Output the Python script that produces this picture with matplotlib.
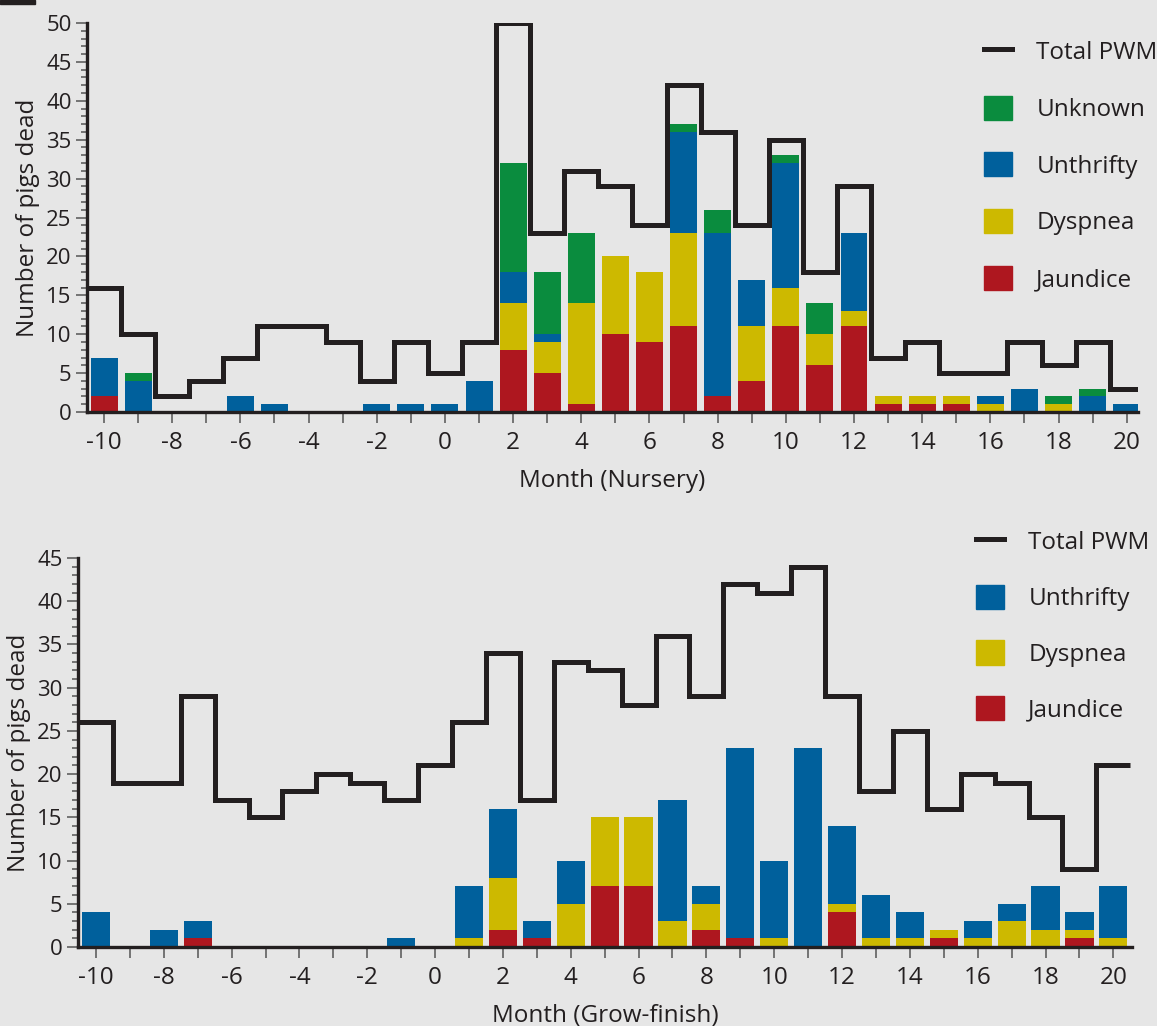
import matplotlib
matplotlib.use("Agg")
import matplotlib.pyplot as plt
from matplotlib.lines import Line2D
from matplotlib.patches import Patch, Rectangle
from matplotlib.ticker import MultipleLocator, FuncFormatter
import numpy as np

# months shown on both panels
months = np.arange(-10, 21)

# --- Nursery (top panel) ---
nur_jaundice = [2, 0, 0, 0, 0, 0, 0, 0, 0, 0, 0, 0, 8, 5, 1, 10, 9, 11, 2, 4, 11, 6, 11, 1, 1, 1, 0, 0, 0, 0, 0]
nur_dyspnea = [0, 0, 0, 0, 0, 0, 0, 0, 0, 0, 0, 0, 6, 4, 13, 10, 9, 12, 0, 7, 5, 4, 2, 1, 1, 1, 1, 0, 1, 0, 0]
nur_unthrifty = [5, 4, 0, 0, 2, 1, 0, 0, 1, 1, 1, 4, 4, 1, 0, 0, 0, 13, 21, 6, 16, 0, 10, 0, 0, 0, 1, 3, 0, 2, 1]
nur_unknown = [0, 1, 0, 0, 0, 0, 0, 0, 0, 0, 0, 0, 14, 8, 9, 0, 0, 1, 3, 0, 1, 4, 0, 0, 0, 0, 0, 0, 1, 1, 0]
nur_total = [16, 10, 2, 4, 7, 11, 11, 9, 4, 9, 5, 9, 50, 23, 31, 29, 24, 42, 36, 24, 35, 18, 29, 7, 9, 5, 5, 9, 6, 9, 3]

# --- Grow-finish (bottom panel) ---
gf_jaundice = [0, 0, 0, 1, 0, 0, 0, 0, 0, 0, 0, 0, 2, 1, 0, 7, 7, 0, 2, 1, 0, 0, 4, 0, 0, 1, 0, 0, 0, 1, 0]
gf_dyspnea = [0, 0, 0, 0, 0, 0, 0, 0, 0, 0, 0, 1, 6, 0, 5, 8, 8, 3, 3, 0, 1, 0, 1, 1, 1, 1, 1, 3, 2, 1, 1]
gf_unthrifty = [4, 0, 2, 2, 0, 0, 0, 0, 0, 1, 0, 6, 8, 2, 5, 0, 0, 14, 2, 22, 9, 23, 9, 5, 3, 0, 2, 2, 5, 2, 6]
gf_total = [26, 19, 19, 29, 17, 15, 18, 20, 19, 17, 21, 26, 34, 17, 33, 32, 28, 36, 29, 42, 41, 44, 29, 18, 25, 16, 20, 19, 15, 9, 21]

C_RED = "#ae171f"
C_YEL = "#cdb900"
C_BLUE = "#00609c"
C_GREEN = "#0a8c3e"
C_LINE = "#231f20"
BG = "#e6e6e6"
FS = 17.5

plt.rcParams["font.family"] = ["Open Sans", "DejaVu Sans"]
plt.rcParams["text.color"] = C_LINE
plt.rcParams["axes.labelcolor"] = C_LINE
plt.rcParams["xtick.color"] = "#555555"
plt.rcParams["ytick.color"] = "#555555"
plt.rcParams["xtick.labelcolor"] = C_LINE
plt.rcParams["ytick.labelcolor"] = C_LINE

W, H = 1157, 1026
fig = plt.figure(figsize=(W / 100, H / 100), dpi=100, facecolor=BG)

def px_axes(x0, x1, ytop, ybot):
    return fig.add_axes([x0 / W, 1 - ybot / H, (x1 - x0) / W, (ybot - ytop) / H])

def style_axes(ax, ymax, xlim, ylab_x):
    ax.set_facecolor(BG)
    ax.set_xlim(*xlim)
    ax.set_ylim(0, ymax)
    for s in ("top", "right"):
        ax.spines[s].set_visible(False)
    for s in ("left", "bottom"):
        ax.spines[s].set_linewidth(2.4)
        ax.spines[s].set_color(C_LINE)
    ax.xaxis.set_major_locator(MultipleLocator(2))
    ax.xaxis.set_minor_locator(MultipleLocator(1))
    ax.yaxis.set_major_locator(MultipleLocator(5))
    ax.yaxis.set_minor_locator(MultipleLocator(1))
    ax.xaxis.set_major_formatter(FuncFormatter(lambda v, p: f"{int(round(v))}"))
    ax.tick_params(axis="x", which="both", length=8, width=1.1, direction="out", pad=6, labelsize=FS)
    ax.tick_params(axis="y", which="major", length=8, width=1.1, direction="out", pad=3, labelsize=16)
    ax.tick_params(axis="y", which="minor", length=4, width=1.1, direction="out")
    ax.set_ylabel("Number of pigs dead", fontsize=FS)
    ax.yaxis.set_label_coords(ylab_x, 0.5)

def make_legend(ax, handles, labels, x, ytop, spacing):
    leg = ax.legend(handles, labels, loc="upper left",
                    bbox_to_anchor=(x / W, 1 - ytop / H), bbox_transform=fig.transFigure,
                    frameon=False, fontsize=FS, handlelength=1.15, handleheight=1.15,
                    handletextpad=1.0, labelspacing=spacing, borderpad=0, borderaxespad=0)
    return leg

# top panel
ax1 = px_axes(87, 1138, 23, 412)
style_axes(ax1, 50, (-10.5, 20.33), -0.045)
b = np.zeros(len(months))
for vals, col in [(nur_jaundice, C_RED), (nur_dyspnea, C_YEL), (nur_unthrifty, C_BLUE), (nur_unknown, C_GREEN)]:
    ax1.bar(months, vals, bottom=b, width=0.79, color=col, linewidth=0, zorder=2)
    b = b + np.array(vals)
ax1.stairs(nur_total, np.arange(-10.5, 21.5), baseline=None, color=C_LINE, linewidth=3.6,
           joinstyle="miter", zorder=3)
ax1.set_xlabel("Month (Nursery)", fontsize=FS, labelpad=10)
h1 = [Line2D([0], [0], color=C_LINE, lw=3.6),
      Patch(color=C_GREEN), Patch(color=C_BLUE), Patch(color=C_YEL), Patch(color=C_RED)]
make_legend(ax1, h1, ["Total PWM", "Unknown", "Unthrifty", "Dyspnea", "Jaundice"], 984, 39, 1.25)

# bottom panel
ax2 = px_axes(78, 1132, 558, 947)
style_axes(ax2, 45, (-10.53, 20.55), -0.045)
b = np.zeros(len(months))
for vals, col in [(gf_jaundice, C_RED), (gf_dyspnea, C_YEL), (gf_unthrifty, C_BLUE)]:
    ax2.bar(months, vals, bottom=b, width=0.83, color=col, linewidth=0, zorder=2)
    b = b + np.array(vals)
ax2.stairs(gf_total, np.arange(-10.5, 21.5), baseline=None, color=C_LINE, linewidth=3.6,
           joinstyle="miter", zorder=3)
ax2.set_xlabel("Month (Grow-finish)", fontsize=FS, labelpad=10)
h2 = [Line2D([0], [0], color=C_LINE, lw=3.6), Patch(color=C_BLUE), Patch(color=C_YEL), Patch(color=C_RED)]
make_legend(ax2, h2, ["Total PWM", "Unthrifty", "Dyspnea", "Jaundice"], 976, 529, 1.21)

# small black mark in the top-left corner of the original figure
fig.patches.append(Rectangle((0, 1 - 4 / H), 35 / W, 4 / H, transform=fig.transFigure,
                             color=C_LINE, zorder=5))

fig.savefig("out.png", dpi=100, facecolor=BG)
